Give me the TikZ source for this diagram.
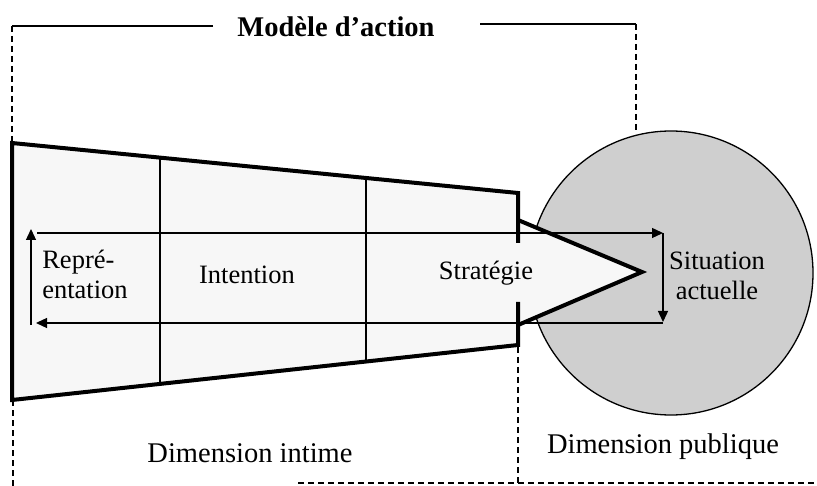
\documentclass[tikz,border=0pt]{standalone}
\usepackage{fontspec}
\setmainfont{Liberation Serif}
\usetikzlibrary{arrows.meta}
\begin{document}
\begin{tikzpicture}[x=1pt,y=-1pt,
  outline/.style={line width=4pt, line join=miter},
  divider/.style={line width=2.6pt},
  flow/.style={line width=1.3pt, -{Triangle[length=11pt,width=10pt]}},
  frame/.style={line width=1.5pt, dash pattern=on 6pt off 4pt},
  rulestroke/.style={line width=1.5pt},
  lbl/.style={font=\fontsize{26.5}{30}\selectfont, inner sep=0pt, align=center},
  biglbl/.style={font=\fontsize{28.5}{32}\selectfont, inner sep=0pt},
]
\useasboundingbox (0,0) rectangle (817,486);
% public circle
\node[circle, draw, line width=1.3pt, fill=gray!38, minimum size=284pt, inner sep=0pt] (pub) at (671,273) {};
% corners of the intimate dimension
\coordinate (A) at (12,143);
\coordinate (B) at (518,193);
\coordinate (C) at (518,345);
\coordinate (D) at (12,400);
\coordinate (Bg) at (518,243);
\coordinate (Cg) at (518,302);
\coordinate (T1) at (518,220);
\coordinate (Tip) at (642,272);
\coordinate (T2) at (518,325);
\fill[gray!6] (A) -- (B) -- (T1) -- (Tip) -- (T2) -- (C) -- (D) -- cycle;
% dividers
\draw[divider] (160,157.6) -- (160,383.9);
\draw[divider] (366,178) -- (366,361.5);
% thick outline
\draw[outline] (Bg) -- (B) -- (A) -- (D) -- (C) -- (Cg);
\draw[outline] (T1) -- (Tip) -- (T2);
% loop of arrows
\coordinate (L1) at (31,325);
\coordinate (L2) at (31,229);
\coordinate (R1) at (37,233);
\coordinate (R2) at (663,233);
\coordinate (R3) at (663,322);
\coordinate (R4) at (663,323);
\coordinate (R5) at (36,323);
\draw[flow] (R1) -- (R2);
\draw[flow] (R2) -- (R3);
\draw[flow] (R4) -- (R5);
\draw[flow] (L1) -- (L2);
% labels
\node[lbl, align=left] (rep) at (85,274) {Repré-\\entation};
\node[lbl] (int) at (247,275) {Intention};
\node[lbl] (str) at (486,273) {Stratégie};
\node[lbl] (sit) at (717,276) {Situation\\actuelle};
\node[biglbl] (dimi) at (250,453) {Dimension intime};
\node[biglbl] (dimp) at (663,447) {Dimension publique};
\node[biglbl, font=\fontsize{28.5}{32}\selectfont\bfseries] (title) at (336,27) {Modèle d’action};
% frame
\coordinate (F1) at (213,26);
\coordinate (F2) at (12,26);
\coordinate (F3) at (480,24);
\coordinate (F4) at (636,24);
\coordinate (F5) at (636,131);
\coordinate (F6) at (13,400);
\coordinate (F7) at (13,486);
\coordinate (F8) at (518,347);
\coordinate (F9) at (518,483);
\coordinate (F10) at (298,483);
\coordinate (F11) at (817,483);
\draw[rulestroke] (F1) -- (F2);
\draw[frame] (F2) -- (A);
\draw[rulestroke] (F3) -- (F4);
\draw[frame] (F4) -- (F5);
\draw[frame] (F6) -- (F7);
\draw[frame] (F8) -- (F9);
\draw[frame] (F10) -- (F11);
\end{tikzpicture}
\end{document}
